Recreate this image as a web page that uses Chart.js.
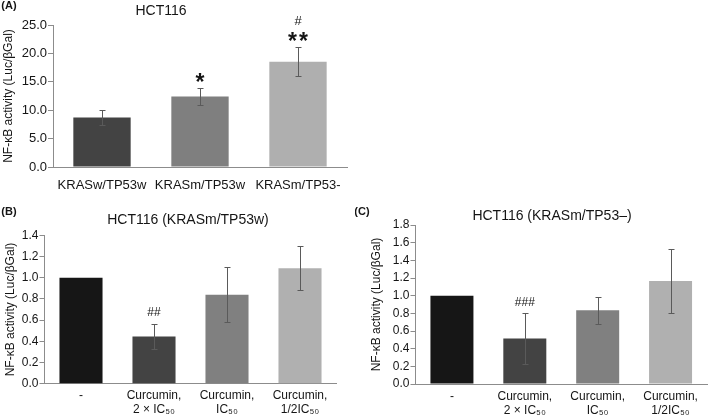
<!DOCTYPE html>
<html>
<head>
<meta charset="utf-8">
<script src="https://cdn.jsdelivr.net/npm/chart.js@4.4.0/dist/chart.umd.min.js"></script>
<style>
body { margin: 0; background: #fff; }
#wrap { position: relative; width: 709px; height: 418px; }
canvas { position: absolute; }
</style>
</head>
<body>
<div id="wrap">
<canvas id="chartA" width="355" height="200" style="left:0;top:0"></canvas>
<canvas id="chartB" width="355" height="213" style="left:0;top:205px"></canvas>
<canvas id="chartC" width="354" height="213" style="left:355px;top:205px"></canvas>
</div>
<script>
// panel A
var labelsA = ['KRASw/TP53w', 'KRASm/TP53w', 'KRASm/TP53-'];
var valuesA = [8.7, 12.4, 18.55];
var errorsA = [1.3, 1.45, 2.5];
var starsA = ['', '*', '**'];
var hashA = ['', '', '#'];
// panels B and C
var labelsBC = [['-'], ['Curcumin,', '2 × IC₅₀'], ['Curcumin,', 'IC₅₀'], ['Curcumin,', '1/2IC₅₀']];
var valuesB = [1.0, 0.445, 0.84, 1.09];
var errorsB = [0, 0.115, 0.26, 0.207];
var hashB = ['', '##', '', ''];
var valuesC = [1.0, 0.515, 0.835, 1.165];
var errorsC = [0, 0.285, 0.155, 0.36];
var hashC = ['', '###', '', ''];

var yTitle = 'NF-κB activity (Luc/βGal)';
var FONT = '"Liberation Sans", Arial, sans-serif';
Chart.defaults.font.family = FONT;
Chart.defaults.color = '#151515';

var extras = {
    id: 'extras',
    afterDatasetsDraw(chart, args, opts) {
        var ctx = chart.ctx, xs = chart.scales.x, ys = chart.scales.y;
        var data = chart.data.datasets[0].data;
        ctx.save();
        ctx.strokeStyle = '#5a5a5a';
        ctx.lineWidth = 1;
        opts.errors.forEach((e, i) => {
            if (!e) return;
            var cx = Math.round(xs.getPixelForValue(i)) + 0.5;
            var top = Math.round(ys.getPixelForValue(data[i] + e)) + 0.5;
            var bot = Math.round(ys.getPixelForValue(data[i] - e)) + 0.5;
            ctx.beginPath();
            ctx.moveTo(cx, top); ctx.lineTo(cx, bot);
            ctx.moveTo(cx - 3, top); ctx.lineTo(cx + 3, top);
            ctx.moveTo(cx - 3, bot); ctx.lineTo(cx + 3, bot);
            ctx.stroke();
        });
        ctx.fillStyle = '#151515';
        ctx.textAlign = 'center';
        ctx.textBaseline = 'alphabetic';
        (opts.marks || []).forEach((m) => {
            ctx.font = m.font;
            m.text.forEach((s, i) => {
                if (!s) return;
                var cx = xs.getPixelForValue(i);
                var cy = ys.getPixelForValue(data[i] + opts.errors[i]) - m.gap;
                var chars = m.spacing ? s.split('') : [s];
                chars.forEach((c, k) => {
                    var mt = ctx.measureText(c);
                    var x = cx + (k - (chars.length - 1) / 2) * (m.spacing || 0);
                    ctx.fillText(c, x, cy + (mt.actualBoundingBoxAscent - mt.actualBoundingBoxDescent) / 2);
                });
            });
        });
        ctx.restore();
    },
    afterDraw(chart, args, opts) {
        var ctx = chart.ctx;
        ctx.save();
        ctx.fillStyle = '#151515';
        ctx.textBaseline = 'middle';
        ctx.textAlign = 'center';
        ctx.font = 'bold 11px ' + FONT;
        ctx.fillText(opts.panel, opts.panelX, opts.panelY);
        ctx.font = '14px ' + FONT;
        ctx.fillText(opts.title, opts.titleX, opts.titleY);
        ctx.restore();
    }
};

function makeChart(id, labels, values, colors, cfg) {
    return new Chart(document.getElementById(id).getContext('2d'), {
        type: 'bar',
        data: {
            labels: labels,
            datasets: [{
                data: values,
                backgroundColor: colors,
                barPercentage: cfg.barPct,
                categoryPercentage: 1
            }]
        },
        options: {
            responsive: false,
            animation: false,
            layout: { padding: { top: cfg.top, right: cfg.right, left: 0, bottom: 0 } },
            plugins: {
                legend: { display: false },
                tooltip: { enabled: false },
                extras: cfg.extras
            },
            scales: {
                x: {
                    grid: { display: false, drawTicks: false },
                    border: { display: true, color: '#8c8c8c', width: 1 },
                    ticks: {
                        font: { size: cfg.xFont, lineHeight: 1.15 },
                        padding: cfg.xPad,
                        maxRotation: 0,
                        autoSkip: false
                    },
                    afterFit: (axis) => { axis.height = cfg.xHeight; }
                },
                y: {
                    min: 0,
                    max: cfg.max,
                    grid: { display: true, drawOnChartArea: false, drawTicks: true, tickLength: 5, color: '#8c8c8c' },
                    border: { display: true, color: '#8c8c8c', width: 1 },
                    ticks: {
                        stepSize: cfg.step,
                        font: { size: cfg.yFont },
                        padding: 1,
                        callback: (v) => Number(v).toFixed(1)
                    },
                    title: {
                        display: true,
                        text: yTitle,
                        font: { size: 12 },
                        padding: { top: cfg.titlePad, bottom: 0 }
                    },
                    afterFit: (axis) => { axis.width = cfg.yWidth; }
                }
            }
        },
        plugins: [extras]
    });
}

makeChart('chartA', labelsA, valuesA, ['#434343', '#7f7f7f', '#afafaf'], {
    barPct: 0.585, top: 25, right: 8, xHeight: 33, yWidth: 53, xFont: 13, xPad: 11,
    max: 25, step: 5, yFont: 13, titlePad: 1,
    extras: {
        errors: errorsA,
        marks: [
            { text: starsA, font: 'bold 23px ' + FONT, gap: 11, spacing: 11 },
            { text: hashA, font: '13px ' + FONT, gap: 26.5 }
        ],
        panel: '(A)', panelX: 9, panelY: 6,
        title: 'HCT116', titleX: 161, titleY: 11
    }
});

makeChart('chartB', labelsBC, valuesB, ['#161616', '#434343', '#808080', '#b0b0b0'], {
    barPct: 0.59, top: 30.3, right: 18.5, xHeight: 34.3, yWidth: 44.5, xFont: 12, xPad: 5,
    max: 1.4, step: 0.2, yFont: 12, titlePad: 3,
    extras: {
        errors: errorsB,
        marks: [{ text: hashB, font: '12px ' + FONT, gap: 13 }],
        panel: '(B)', panelX: 9, panelY: 7,
        title: 'HCT116 (KRASm/TP53w)', titleX: 188, titleY: 15
    }
});

makeChart('chartC', labelsBC, valuesC, ['#161616', '#434343', '#808080', '#b0b0b0'], {
    barPct: 0.59, top: 20, right: 2, xHeight: 34, yWidth: 60.5, xFont: 12, xPad: 6,
    max: 1.8, step: 0.2, yFont: 12, titlePad: 14.5,
    extras: {
        errors: errorsC,
        marks: [{ text: hashC, font: '12px ' + FONT, gap: 11.5 }],
        panel: '(C)', panelX: 7, panelY: 7,
        title: 'HCT116 (KRASm/TP53–)', titleX: 197, titleY: 11
    }
});
</script>
</body>
</html>
